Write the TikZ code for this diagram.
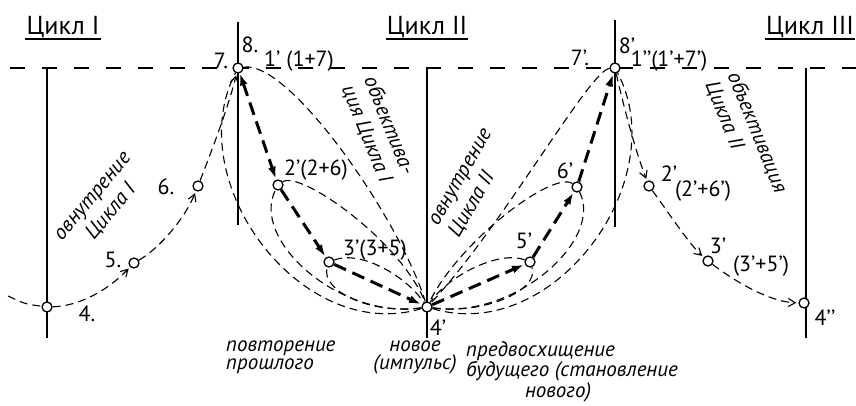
\documentclass[tikz,border=0pt]{standalone}
\usepackage{fontspec}
\setmainfont{PT Sans}
\usetikzlibrary{arrows.meta}

\newcommand{\pointfont}{\fontsize{22}{24}\selectfont}
\newcommand{\cyclefont}{\fontsize{26}{30}\selectfont}
\newcommand{\notefont}{\fontsize{21}{24}\selectfont\itshape}
\newcommand{\bottomfont}{\fontsize{21}{18}\selectfont\itshape}

\begin{document}
\begin{tikzpicture}[
	x=1pt, y=-1pt,
	font=\pointfont,
	>={Latex[length=12pt, width=8pt]},
	stage/.style={circle, draw=black, fill=white, line width=1.3pt, minimum size=10pt, inner sep=0pt},
	horizon/.style={draw=black, line width=1.2pt, dash pattern=on 15pt off 17pt},
	cycleline/.style={draw=black, line width=1.2pt},
	petal/.style={draw=black, line width=1.1pt, dash pattern=on 8pt off 5pt},
	flow/.style={petal, -{Straight Barb[length=7pt, width=8pt]}, shorten >=2pt},
	heavy/.style={draw=black, line width=3pt, dash pattern=on 13pt off 7pt, shorten >=1pt},
	cyclelbl/.style={font=\cyclefont, inner sep=1pt},
	slantlbl/.style={font=\notefont, inner sep=1pt},
	bottomlbl/.style={font=\bottomfont, align=left, inner sep=0pt}
]
\useasboundingbox (0,0) rectangle (856,406);

% Level of the culminations and the borders of the cycles
\draw[horizon] (10,68) -- (856,68);
\foreach \x in {47,427,806} {
	\draw[cycleline] (\x,68) -- (\x,338);
}
\draw[cycleline] (238,22) -- (238,225);
\draw[cycleline] (615,20) -- (615,227);

% Stages
\coordinate (a0) at (8,296);
\node[stage] (a4) at (47,307) {};
\node[stage] (a5) at (134,263) {};
\node[stage] (a6) at (198,186) {};
\node[stage] (b1) at (238,68) {};
\node[stage] (b2) at (278,185) {};
\node[stage] (b3) at (329,262) {};
\node[stage] (b4) at (427,307) {};
\node[stage] (b5) at (530,262) {};
\node[stage] (b6) at (577,187) {};
\node[stage] (c1) at (615,68) {};
\node[stage] (c2) at (649,186) {};
\node[stage] (c3) at (708,261) {};
\node[stage] (c4) at (804,303) {};

% Loops of cycle I folding into 4'
\draw[petal] (b4) .. controls (300,345) and (180,180) .. (b1);
\draw[petal] (b1) .. controls (290,60) and (400,220) .. (b4);
\draw[petal] (b4) .. controls (340,320) and (250,240) .. (b2);
\draw[petal] (b2) .. controls (300,170) and (400,240) .. (b4);
\draw[petal] (b4) .. controls (370,315) and (320,290) .. (b3);
\draw[petal] (b3) .. controls (360,250) and (405,275) .. (b4);

% Loops of cycle II unfolding from 4'
\draw[petal] (b4) .. controls (554,345) and (674,180) .. (c1);
\draw[petal] (c1) .. controls (590,70) and (500,230) .. (b4);
\draw[petal] (b4) .. controls (514,320) and (604,240) .. (b6);
\draw[petal] (b6) .. controls (554,170) and (460,240) .. (b4);
\draw[petal] (b4) .. controls (484,315) and (540,290) .. (b5);
\draw[petal] (b5) .. controls (500,250) and (449,275) .. (b4);

% Course of cycle I
\draw[petal] (a0) .. controls (25,304) .. (a4);
\draw[flow] (a4) .. controls (80,306) and (108,290) .. (a5);
\draw[flow] (a5) .. controls (160,248) and (185,218) .. (a6);
\draw[flow] (a6) .. controls (212,150) and (228,108) .. (b1);

% Main line through 4'
\draw[heavy, <->] (b1) -- (b2);
\draw[heavy, ->] (b2) -- (b3);
\draw[heavy, ->] (b3) -- (b4);
\draw[heavy, ->] (b4) -- (b5);
\draw[heavy, ->] (b5) -- (b6);
\draw[heavy, ->] (b6) -- (c1);

% Course of cycle II after 1''
\draw[flow] (c1) .. controls (622,100) and (635,150) .. (c2);
\draw[flow] (c2) .. controls (668,212) and (690,245) .. (c3);
\draw[flow] (c3) .. controls (740,285) and (772,302) .. (c4);

% Cycle titles
\node[cyclelbl] (cycA) at (63,27) {Цикл I};
\node[cyclelbl] (cycB) at (427,27) {Цикл II};
\node[cyclelbl] (cycC) at (810,27) {Цикл III};
\foreach \c in {cycA,cycB,cycC} {
	\draw[cycleline] (\c.south west) -- (\c.south east);
}

% Stage labels
\node (t4) at (87,314) {4.};
\node (t5) at (113,260) {5.};
\node (t6) at (166,187) {6.};
\node (t7) at (221,61) {7.};
\node (t8) at (250,45) {8.};
\node (t1b) at (299,61) {1’ (1+7)};
\node (t2b) at (316,170) {2’(2+6)};
\node (t3b) at (375,250) {3’(3+5)};
\node (t4b) at (438,328) {4’};
\node (t5b) at (524,241) {5’};
\node (t6b) at (565,171) {6’};
\node (t7b) at (580,58) {7’.};
\node (t8b) at (627,46) {8’};
\node (t1c) at (669,61) {1’’(1’+7’)};
\node (t2c) at (669,174) {2’};
\node (t2cs) at (703,191) {(2’+6’)};
\node (t3c) at (718,246) {3’};
\node (t3cs) at (761,266) {(3’+5’)};
\node (t4c) at (825,318) {4’’};

% Phases along the loops
\node[slantlbl, rotate=50, align=center] (intA) at (103,205) {овнутрение\\Цикла I};
\node[slantlbl, rotate=-68, align=left] (objA) at (378,130) {объектива-\\ция Цикла I};
\node[slantlbl, rotate=60, align=left] (intB) at (472,184) {овнутрение\\Цикла II};
\node[slantlbl, rotate=-68, align=left] (objB) at (746,137) {объективация\\Цикла II};

% Meaning of the three parts
\node[bottomlbl, anchor=north west] (past) at (226,341) {повторение\\прошлого};
\node[bottomlbl, anchor=north, align=center] (impulse) at (415,341) {новое\\(импульс)};
\node[bottomlbl, anchor=north west] (future) at (466,341) {предвосхищение\\будущего (становление\\\hspace*{2.8em}нового)};

\end{tikzpicture}
\end{document}
